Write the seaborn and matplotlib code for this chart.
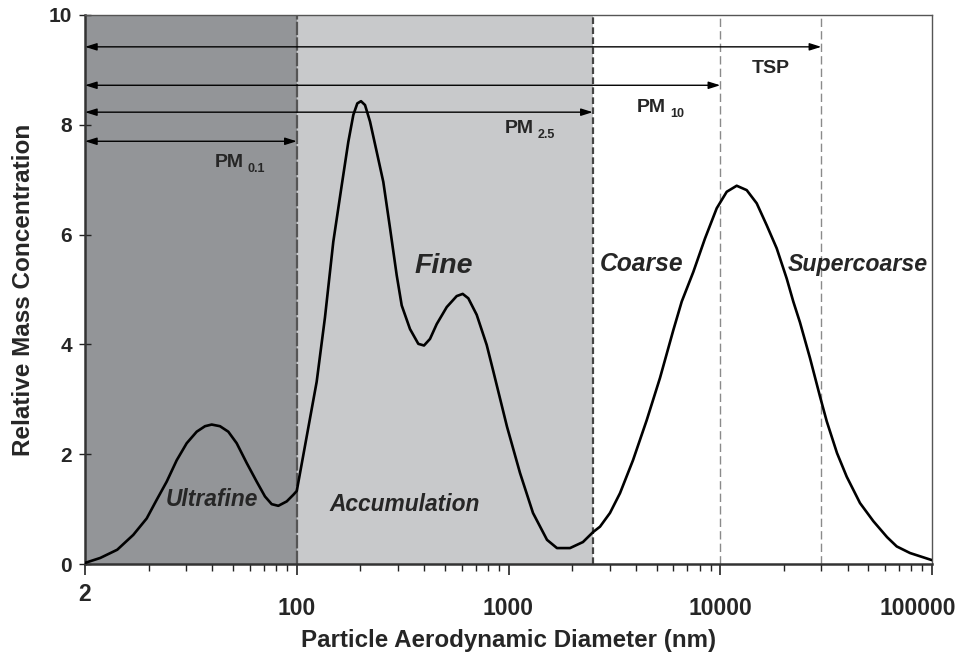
import matplotlib
matplotlib.use("Agg")
import matplotlib.pyplot as plt
import matplotlib.transforms as mtransforms
from matplotlib.ticker import FixedLocator, LogLocator, NullFormatter
import seaborn as sns
import pandas as pd

# ---- data ----
diameter_nm = [10, 11.8, 14.2, 16.9, 19.56, 21.81, 24.31, 27.11, 30.22, 33.69, 36.87,
               39.66, 43.40, 47.51, 52.04, 58.02, 64.70, 70.79, 76.15, 81.84, 89.66,
               96.31, 100, 107, 124.2, 135.9, 148.8, 163.1, 175.2, 185.0, 193.2, 201.1,
               210.1, 221.8, 238.5, 256.3, 275.7, 296.5, 313.1, 342.6, 375.1, 399.0,
               425.9, 458.1, 510.9, 569.2, 607.8, 645.9, 707.6, 789.0, 847.8, 984,
               1133, 1305, 1520, 1694, 1952, 2247, 2506, 2705, 3015, 3362, 3872, 4495,
               5194, 6003, 6577, 7461, 8472, 9623, 10728, 11958, 13333, 14866, 16575,
               18475, 20597, 22130, 23800, 26540, 29590, 31830, 35600, 39560, 45709,
               52850, 61320, 68140, 78720, 100000]
concentration = [0.02, 0.11, 0.26, 0.53, 0.83, 1.17, 1.50, 1.89, 2.20, 2.41, 2.51,
                 2.54, 2.51, 2.41, 2.20, 1.84, 1.50, 1.23, 1.09, 1.06, 1.14,
                 1.26, 1.33, 1.95, 3.32, 4.49, 5.87, 6.90, 7.69, 8.18, 8.39, 8.43,
                 8.36, 8.06, 7.51, 6.96, 6.12, 5.26, 4.71, 4.28, 4.01, 3.98,
                 4.10, 4.37, 4.68, 4.88, 4.92, 4.84, 4.54, 3.99, 3.51, 2.50,
                 1.66, 0.93, 0.44, 0.29, 0.29, 0.40, 0.58, 0.68, 0.93, 1.29, 1.89, 2.62,
                 3.39, 4.26, 4.78, 5.32, 5.93, 6.48, 6.78, 6.89, 6.81, 6.57, 6.17,
                 5.75, 5.20, 4.78, 4.40, 3.75, 3.05, 2.60, 2.02, 1.59, 1.11,
                 0.78, 0.49, 0.32, 0.20, 0.07]

x_ticks = [10, 100, 1000, 10000, 100000]
x_tick_labels = ["2", "100", "1000", "10000", "100000"]
y_ticks = [0, 2, 4, 6, 8, 10]

ultrafine_span = [10, 100]
accumulation_span = [100, 2500]
cut_sizes = [10000, 30000]

range_names = ["TSP", "PM", "PM", "PM"]
range_subs = ["", "10", "2.5", "0.1"]
range_ends = [30000, 10000, 2500, 100]
range_arrow_y = [9.42, 8.72, 8.23, 7.70]
range_label_x = [14130, 4050, 961, 41]
range_label_y = [8.94, 8.23, 7.85, 7.23]

mode_names = ["Ultrafine", "Accumulation", "Fine", "Coarse", "Supercoarse"]
mode_x = [39.8, 324, 495, 4266, 44770]
mode_y = [1.18, 1.09, 5.43, 5.46, 5.46]
mode_sizes = [16.4, 16.4, 20.5, 17.7, 16.7]

# ---- style ----
sns.set_theme(style="white")
plt.rcParams["font.family"] = ["Liberation Sans", "DejaVu Sans"]
plt.rcParams["font.weight"] = "bold"

fig = plt.figure(figsize=(9.66, 6.57), dpi=100)
ax = fig.add_axes([85 / 966, 1 - 564 / 657, (932 - 85) / 966, (564 - 15) / 657])
ax.set_xscale("log")

ax.axvspan(ultrafine_span[0], ultrafine_span[1], color="#939598", lw=0, zorder=0)
ax.axvspan(accumulation_span[0], accumulation_span[1], color="#c8c9cb", lw=0, zorder=0)
ax.axvline(ultrafine_span[1], color="#555555", lw=1.6, ls=(0, (6, 1)), zorder=1)
ax.axvline(accumulation_span[1], color="#444444", lw=1.6, ls=(0, (3, 1.5)), zorder=1)
for c in cut_sizes:
    ax.axvline(c, color="#8a8a8a", lw=1.0, ls=(0, (6, 3)), zorder=1)

df = pd.DataFrame({"d": diameter_nm, "c": concentration})
sns.lineplot(data=df, x="d", y="c", ax=ax, color="black", lw=1.9, zorder=3,
             estimator=None, sort=True)
for ln in ax.get_lines():
    ln.set_solid_joinstyle("round")
    ln.set_solid_capstyle("round")

# range arrows and labels
for name, sub, end, ay, lx, ly in zip(range_names, range_subs, range_ends,
                                      range_arrow_y, range_label_x, range_label_y):
    ax.annotate("", xy=(end, ay), xytext=(x_ticks[0], ay),
                arrowprops=dict(arrowstyle="<|-|>,head_length=0.7,head_width=0.22",
                                color="black", lw=1.0, shrinkA=0, shrinkB=0,
                                mutation_scale=10), zorder=4)
    t = ax.text(lx, ly, name, fontsize=14, fontweight="bold", ha="left",
                va="baseline", zorder=5)
    if sub:
        ax.annotate(sub, xy=(1, 0), xycoords=t, xytext=(3, -3),
                    textcoords="offset points", fontsize=9, fontweight="bold",
                    ha="left", va="bottom", zorder=5)

for name, mx, my, fs in zip(mode_names, mode_x, mode_y, mode_sizes):
    ax.text(mx, my, name, fontsize=fs, fontweight="bold", fontstyle="italic",
            ha="center", va="center", zorder=5)

ax.set_xlim(10, 100000)
ax.set_ylim(0, 10)
ax.xaxis.set_major_locator(FixedLocator(x_ticks))
ax.set_xticklabels(x_tick_labels)
ax.xaxis.set_minor_locator(LogLocator(base=10, subs=range(2, 10), numticks=20))
ax.xaxis.set_minor_formatter(NullFormatter())
ax.set_yticks(y_ticks)
ax.set_yticklabels([str(v) for v in y_ticks])

ax.tick_params(axis="x", which="major", direction="out", length=8, width=1.2,
               color="#222222", labelsize=16.5, pad=16, bottom=True)
ax.tick_params(axis="x", which="minor", direction="out", length=5, width=1.0,
               color="#222222", bottom=True)
ax.tick_params(axis="y", which="major", direction="inout", length=9, width=1.0,
               color="#222222", labelsize=15, pad=5, left=True)
for lab in ax.get_xticklabels() + ax.get_yticklabels():
    lab.set_fontweight("bold")
xlabs = ax.get_xticklabels()
xlabs[0].set_transform(xlabs[0].get_transform() +
                       mtransforms.ScaledTranslation(0, 10 / 72, fig.dpi_scale_trans))
xlabs[-1].set_transform(xlabs[-1].get_transform() +
                        mtransforms.ScaledTranslation(-10 / 72, 0, fig.dpi_scale_trans))

for side in ["left", "bottom"]:
    ax.spines[side].set_color("#333333")
    ax.spines[side].set_linewidth(1.8)
for side in ["top", "right"]:
    ax.spines[side].set_color("#555555")
    ax.spines[side].set_linewidth(1.0)

ax.set_xlabel("Particle Aerodynamic Diameter (nm)", fontsize=17.4, fontweight="bold",
              labelpad=6)
ax.set_ylabel("Relative Mass Concentration", fontsize=17.5, fontweight="bold",
              labelpad=10)

fig.savefig("out.png", dpi=100)
